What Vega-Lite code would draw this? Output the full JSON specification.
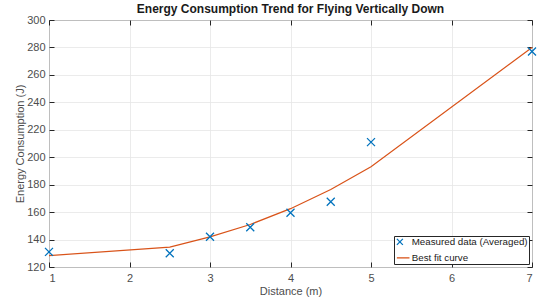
{
  "$schema": "https://vega.github.io/schema/vega-lite/v6.json",
  "width": 483,
  "height": 247,
  "autosize": {"type": "none"},
  "padding": {"left": 49, "top": 20, "right": 8, "bottom": 37},
  "background": "white",
  "title": {
    "text": "Energy Consumption Trend for Flying Vertically Down",
    "font": "Liberation Sans",
    "fontSize": 12,
    "fontWeight": "bold",
    "color": "#1a1a1a",
    "offset": -2,
    "anchor": "middle",
    "frame": "group"
  },
  "config": {
    "font": "Liberation Sans",
    "view": {"stroke": "#262626", "strokeWidth": 1},
    "axis": {
      "labelFont": "Liberation Sans",
      "titleFont": "Liberation Sans",
      "labelFontSize": 11,
      "titleFontSize": 11,
      "labelColor": "#4d4d4d",
      "titleColor": "#4d4d4d",
      "titleFontWeight": "normal",
      "gridColor": "#e6e6e6",
      "gridWidth": 0.8,
      "tickColor": "#262626",
      "domainColor": "#262626",
      "domain": true
    },
    "legend": {
      "title": null,
      "orient": "bottom-right",
      "offset": 3,
      "direction": "vertical",
      "fillColor": "white",
      "strokeColor": "#262626",
      "padding": 1,
      "rowPadding": 4,
      "labelFont": "Liberation Sans",
      "labelFontSize": 9.75,
      "labelColor": "#1a1a1a",
      "symbolSize": 36,
      "symbolStrokeWidth": 1.3,
      "labelOffset": 7
    }
  },
  "datasets": {
    "all": [
      {"distance": 1, "energy": 131, "series": "Measured data (Averaged)"},
      {"distance": 2.5, "energy": 130, "series": "Measured data (Averaged)"},
      {"distance": 3, "energy": 142, "series": "Measured data (Averaged)"},
      {"distance": 3.5, "energy": 149, "series": "Measured data (Averaged)"},
      {"distance": 4, "energy": 159.5, "series": "Measured data (Averaged)"},
      {"distance": 4.5, "energy": 167.5, "series": "Measured data (Averaged)"},
      {"distance": 5, "energy": 211, "series": "Measured data (Averaged)"},
      {"distance": 7, "energy": 277, "series": "Measured data (Averaged)"},
      {"distance": 1, "energy": 128.3, "series": "Best fit curve"},
      {"distance": 2.5, "energy": 134.5, "series": "Best fit curve"},
      {"distance": 3, "energy": 142, "series": "Best fit curve"},
      {"distance": 3.5, "energy": 151, "series": "Best fit curve"},
      {"distance": 4, "energy": 162.5, "series": "Best fit curve"},
      {"distance": 4.5, "energy": 176.5, "series": "Best fit curve"},
      {"distance": 5, "energy": 193, "series": "Best fit curve"},
      {"distance": 7, "energy": 280, "series": "Best fit curve"}
    ]
  },
  "data": {"name": "all"},
  "layer": [
    {
      "transform": [{"filter": "datum.series === 'Best fit curve'"}],
      "mark": {"type": "line", "strokeWidth": 1.2, "clip": false},
      "encoding": {
        "x": {
          "field": "distance", "type": "quantitative",
          "scale": {"domain": [1, 7], "nice": false, "zero": false},
          "axis": {"orient": "top", "labels": false, "title": null, "grid": false, "tickSize": -5, "values": [1,2,3,4,5,6,7], "domain": false}
        },
        "y": {
          "field": "energy", "type": "quantitative",
          "scale": {"domain": [120, 300], "nice": false, "zero": false},
          "axis": {"orient": "right", "labels": false, "title": null, "grid": false, "tickSize": -5, "values": [120,140,160,180,200,220,240,260,280,300], "domain": false}
        },
        "color": {
          "field": "series", "type": "nominal",
          "scale": {"domain": ["Measured data (Averaged)", "Best fit curve"], "range": ["#0072BD", "#D95319"]}
        }
      }
    },
    {
      "transform": [{"filter": "datum.series === 'Measured data (Averaged)'"}],
      "mark": {"type": "point", "filled": false, "strokeWidth": 1.3, "size": 64, "opacity": 1, "clip": false},
      "encoding": {
        "x": {
          "field": "distance", "type": "quantitative",
          "axis": {"orient": "bottom", "title": "Distance (m)", "grid": true, "tickSize": -5, "labelPadding": 10, "titlePadding": 2, "values": [1,2,3,4,5,6,7], "domain": false}
        },
        "y": {
          "field": "energy", "type": "quantitative",
          "axis": {"orient": "left", "title": "Energy Consumption (J)", "grid": true, "tickSize": -5, "labelPadding": 9, "titlePadding": 1, "values": [120,140,160,180,200,220,240,260,280,300], "domain": false}
        },
        "color": {"field": "series", "type": "nominal"},
        "shape": {"field": "series", "type": "nominal",
          "scale": {"domain": ["Measured data (Averaged)", "Best fit curve"], "range": ["M-1,-1L1,1M-1,1L1,-1", "M-1,0L3.2,0"]}
        }
      }
    }
  ]
}
